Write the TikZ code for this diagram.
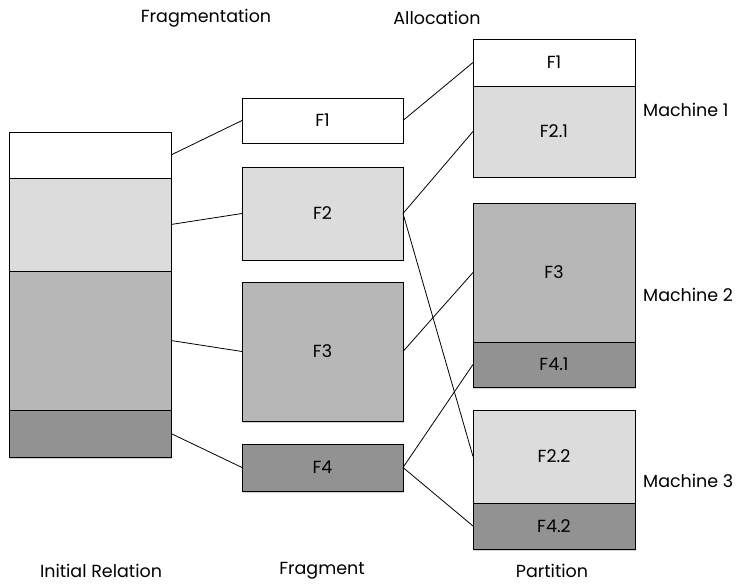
\documentclass[tikz,border=0pt]{standalone}
\usepackage{fontspec}
\setmainfont{Poppins}
\usepackage{tikz}
\usetikzlibrary{positioning,shadows}

\definecolor{lightseg}{HTML}{DCDCDC}
\definecolor{midseg}{HTML}{B7B7B7}
\definecolor{darkseg}{HTML}{929292}

\begin{document}
\begin{tikzpicture}[
 x=1pt,y=-1pt,
 seg/.style={
  rectangle,
  draw=black,
  line width=0.9pt,
  minimum width=162pt,
  inner sep=0pt,
  outer sep=0pt,
  font=\fontsize{17.5}{20}\selectfont,
  drop shadow={shadow xshift=1.2pt,shadow yshift=-1.5pt,opacity=0.35}
 },
 lab/.style={font=\fontsize{17.5}{20}\selectfont,inner sep=0pt},
 link/.style={line width=0.8pt}
]
 \useasboundingbox (0,0) rectangle (749,585);

 \node[seg,fill=white,minimum height=46pt,anchor=north west] (r1) at (9,132) {};
 \node[seg,fill=lightseg,minimum height=93pt,below=0pt of r1] (r2) {};
 \node[seg,fill=midseg,minimum height=139pt,below=0pt of r2] (r3) {};
 \node[seg,fill=darkseg,minimum height=47pt,below=0pt of r3] (r4) {};

 \node[seg,fill=white,minimum width=161pt,minimum height=45pt,anchor=north west] (f1) at (242,98) {F1};
 \node[seg,fill=lightseg,minimum width=161pt,minimum height=93pt,below=24pt of f1] (f2) {F2};
 \node[seg,fill=midseg,minimum width=161pt,minimum height=139pt,below=22pt of f2] (f3) {F3};
 \node[seg,fill=darkseg,minimum width=161pt,minimum height=47pt,below=23pt of f3] (f4) {F4};

 \node[seg,fill=white,minimum height=47pt,anchor=north west] (p1) at (473,39) {F1};
 \node[seg,fill=lightseg,minimum height=91pt,below=0pt of p1] (p21) {F2.1};
 \node[seg,fill=midseg,minimum height=139pt,anchor=north west] (p3) at (473,203) {F3};
 \node[seg,fill=darkseg,minimum height=45pt,below=0pt of p3] (p41) {F4.1};
 \node[seg,fill=lightseg,minimum height=93pt,anchor=north west] (p22) at (473,410) {F2.2};
 \node[seg,fill=darkseg,minimum height=46pt,below=0pt of p22] (p42) {F4.2};

 \draw[link] (r1.east) -- (f1.west);
 \draw[link] (r2.east) -- (f2.west);
 \draw[link] (r3.east) -- (f3.west);
 \draw[link] (r4.east) -- (f4.west);

 \draw[link] (f1.east) -- (p1.west);
 \draw[link] (f2.east) -- (p21.west);
 \draw[link] (f2.east) -- (p22.west);
 \draw[link] (f3.east) -- (p3.west);
 \draw[link] (f4.east) -- (p41.west);
 \draw[link] (f4.east) -- (p42.west);

 \node[lab,anchor=west] (m1) at (643,110) {Machine 1};
 \node[lab,anchor=west] (m2) at (643,295) {Machine 2};
 \node[lab,anchor=west] (m3) at (643,481) {Machine 3};

 \node[lab] (frag) at (206,18) {Fragmentation};
 \node[lab] (alloc) at (437,18) {Allocation};
 \node[lab] (init) at (101,571) {Initial Relation};
 \node[lab] (fragm) at (322,571) {Fragment};
 \node[lab] (part) at (552,571) {Partition};
\end{tikzpicture}
\end{document}
